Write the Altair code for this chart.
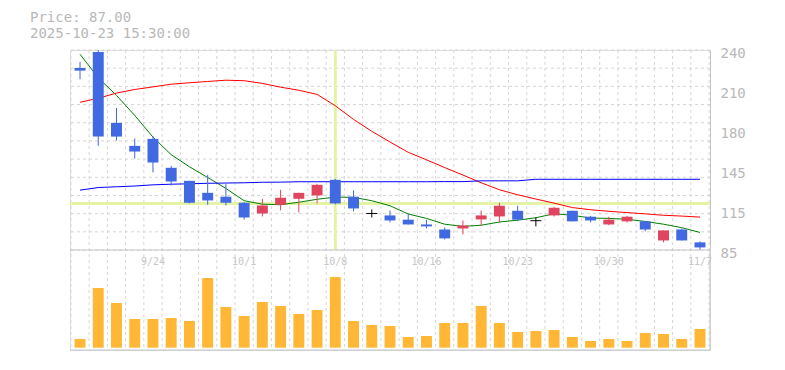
import altair as alt
import pandas as pd
import numpy as np

# ---------------- data ----------------
dates = ["9/17", "9/18", "9/19", "9/22", "9/24", "9/25", "9/26", "9/29", "9/30",
         "10/1", "10/2", "10/3", "10/6", "10/7", "10/8", "10/9", "10/10", "10/14",
         "10/15", "10/16", "10/17", "10/20", "10/21", "10/22", "10/23", "10/24",
         "10/27", "10/28", "10/29", "10/30", "10/31", "11/4", "11/5", "11/6", "11/7"]
open_p = [226.1, 238.5, 183.5, 165.7, 171.1, 148.7, 138.6, 129.3, 126.3, 121.6,
          113.3, 120.1, 124.7, 127.3, 139.4, 126.3, 113.3, 111.8, 108.5, 104.8,
          100.9, 101.7, 108.7, 111.0, 115.4, 107.7, 111.8, 115.4, 110.8, 104.8,
          107.2, 107.2, 92.4, 100.9, 90.9]
high_p = [230.7, 240.0, 195.1, 171.4, 173.2, 150.2, 138.6, 143.3, 136.3, 122.1,
          124.7, 131.7, 129.3, 136.3, 140.2, 131.3, 116.4, 115.6, 113.1, 108.5,
          102.5, 107.9, 115.6, 121.6, 119.3, 110.2, 118.5, 115.4, 111.5, 110.8,
          111.5, 107.2, 100.2, 101.7, 91.7]
low_p = [217.3, 165.7, 169.8, 155.9, 145.1, 135.0, 121.1, 120.1, 119.5, 108.5,
         111.0, 115.7, 114.1, 121.1, 120.3, 114.9, 110.2, 106.4, 104.8, 101.7,
         93.2, 97.1, 104.0, 106.6, 107.2, 103.3, 111.0, 107.2, 106.4, 104.3,
         106.4, 99.4, 90.9, 92.4, 85.0]
close_p = [224.0, 172.9, 172.9, 161.3, 152.8, 138.1, 121.6, 123.4, 121.6, 110.2,
           119.5, 125.5, 129.3, 135.5, 121.1, 117.2, 113.3, 107.9, 104.8, 103.3,
           94.0, 104.0, 111.8, 119.3, 108.5, 107.7, 117.7, 107.2, 107.9, 108.5,
           110.8, 100.9, 100.2, 92.4, 87.0]
ma5 = [236.7, 218.5, 204.8, 189.3, 172.5, 158.9, 149.5, 141.2, 132.7, 123.2,
       120.5, 120.1, 122.0, 124.3, 126.0, 125.8, 123.2, 119.3, 112.9, 109.5,
       105.0, 103.3, 104.2, 106.7, 108.1, 110.0, 113.1, 111.9, 109.8, 109.5,
       108.8, 107.1, 105.0, 102.3, 98.6]
ma25 = [199.5, 202.6, 206.6, 209.4, 211.4, 213.5, 214.6, 215.6, 216.6, 216.2,
        214.1, 211.2, 208.8, 205.6, 196.8, 186.2, 177.0, 168.7, 160.7, 154.9,
        148.9, 143.1, 137.1, 131.7, 127.8, 124.5, 121.3, 117.9, 116.2, 115.0,
        114.0, 113.0, 111.9, 111.3, 110.5]
ma75 = [131.4, 133.4, 134.0, 134.6, 135.5, 136.0, 136.3, 136.7, 136.9, 137.1,
        137.5, 137.6, 137.9, 137.9, 137.9, 137.9, 137.9, 137.9, 137.9, 137.9,
        138.0, 138.0, 138.6, 138.6, 138.6, 139.8, 139.8, 139.8, 139.8, 139.8,
        139.8, 139.8, 139.8, 139.8, 139.8]
volume = [87, 597, 447, 287, 287, 297, 267, 697, 407, 317, 457, 417, 337, 377,
          707, 267, 227, 217, 107, 117, 247, 247, 417, 247, 157, 167, 177, 107,
          67, 87, 67, 147, 137, 87, 187]
label_dates = ["9/24", "10/1", "10/8", "10/16", "10/23", "10/30", "11/7"]
price_ticks = [85, 116, 147, 178, 209, 240]
header_price = "Price: 87.00"
header_time = "2025-10-23 15:30:00"
cross_date = "10/8"

# ---------------- styling ----------------
MONO = "DejaVu Sans Mono"
UP, DOWN, FLAT = "#e0455f", "#4169e1", "#000000"
VOL_C = "#ffb735"
GRID_C = "#d6d6d6"
FRAME_C = "#c4c4c4"
CROSS_C = "#e4f4a4"
TEXT_C = "#b8b8b8"

P_MIN, P_MAX = 85, 240
V_MIN, V_MAX = -23, 977
W, H_PRICE, H_TOTAL = 640, 200, 300

n = len(dates)
df = pd.DataFrame({
    "idx": list(range(n)), "date": dates, "open": open_p, "high": high_p,
    "low": low_p, "close": close_p, "ma5": ma5, "ma25": ma25, "ma75": ma75,
    "vol": volume,
})
df["dir"] = np.where(df["close"] > df["open"], "up",
                     np.where(df["close"] < df["open"], "down", "flat"))

xscale = alt.Scale(domain=[-0.55, n - 1 + 0.55], nice=False, zero=False)
pscale = alt.Scale(domain=[P_MIN, P_MAX], range=[H_PRICE, 0], nice=False, zero=False)
vscale = alt.Scale(domain=[V_MIN, V_MAX], range=[H_TOTAL, H_PRICE], nice=False, zero=False)
color_scale = alt.Scale(domain=["up", "down", "flat"], range=[UP, DOWN, FLAT])

PAXIS = alt.Axis(orient="right", values=price_ticks, labelExpr="round(datum.value/5)*5",
                 ticks=False, grid=False, domain=True, domainColor=FRAME_C, domainWidth=1,
                 labelPadding=10, labelFont=MONO, labelFontSize=14, labelColor=TEXT_C,
                 labelOffset=3, labelFlush=False, labelOverlap=False, title=None)


def X(field):
    return alt.X(field, type="quantitative", scale=xscale, axis=None)


def PY(field):
    return alt.Y(field, type="quantitative", scale=pscale, axis=PAXIS)


base = alt.Chart(df).transform_calculate(xl="datum.idx - 0.3", xr="datum.idx + 0.3")

# grids
vgrid = alt.Chart(pd.DataFrame({"g": np.arange(n + 1) - 0.5})).mark_rule(
    color=GRID_C, strokeDash=[3, 3], strokeWidth=1).encode(x=X("g"))
hgrid = alt.Chart(pd.DataFrame({"p": np.linspace(P_MIN, P_MAX, 12)})).mark_rule(
    color=GRID_C, strokeDash=[3, 3], strokeWidth=1).encode(y=PY("p"))

# crosshair
cross = base.transform_filter(alt.datum.date == cross_date)
cross_h = cross.mark_rule(color=CROSS_C, strokeWidth=3).encode(y=PY("close"))
cross_v = cross.mark_rule(color=CROSS_C, strokeWidth=3).encode(
    x=X("idx"), y=alt.value(0), y2=alt.value(H_PRICE))

# moving averages
line5 = base.mark_line(color="#008000", strokeWidth=1).encode(x=X("idx"), y=PY("ma5"))
line25 = base.mark_line(color="#ff0000", strokeWidth=1).encode(x=X("idx"), y=PY("ma25"))
line75 = base.mark_line(color="#0000ff", strokeWidth=1).encode(x=X("idx"), y=PY("ma75"))

# candles
wicks = base.mark_rule(strokeWidth=1).encode(
    x=X("idx"), y=PY("low"), y2="high:Q",
    color=alt.Color("dir:N", scale=color_scale, legend=None))
bodies = base.mark_rect().encode(
    x=X("xl"), x2="xr:Q", y=PY("open"), y2="close:Q",
    color=alt.Color("dir:N", scale=color_scale, legend=None))
doji = base.transform_filter(alt.datum.dir == "flat").mark_rule(
    color=FLAT, strokeWidth=1).encode(x=X("xl"), x2="xr:Q", y=PY("open"))

price = alt.layer(hgrid, cross_h, cross_v, line5, line25, line75, wicks, bodies, doji)

# volume
vol_bars = base.mark_rect(color=VOL_C).encode(
    x=X("xl"), x2="xr:Q",
    y=alt.Y("vol:Q", scale=vscale, axis=None), y2=alt.datum(0))
vol = alt.layer(vol_bars)

# frame lines
one = pd.DataFrame({"a": [0]})
frame_mid = alt.Chart(one).mark_rule(color=FRAME_C, strokeWidth=1).encode(y=alt.value(H_PRICE))
frame_bot = alt.Chart(one).mark_rule(color=FRAME_C, strokeWidth=1).encode(y=alt.value(H_TOTAL))
frame_right = alt.Chart(one).mark_rule(color=FRAME_C, strokeWidth=1).encode(
    x=alt.value(W), y=alt.value(H_PRICE), y2=alt.value(H_TOTAL))

# date labels
date_text = base.transform_filter(
    alt.FieldOneOfPredicate(field="date", oneOf=label_dates)).mark_text(
    font=MONO, fontSize=10, color="#c6c6c6", baseline="middle", align="center").encode(
    x=X("idx"), y=alt.value(H_PRICE + 12), text="date:N")

# header
head1 = alt.Chart(pd.DataFrame({"t": [header_price]})).mark_text(
    font=MONO, fontSize=14, color=TEXT_C, align="left", baseline="middle").encode(
    x=alt.value(-40), y=alt.value(-32), text="t:N")
head2 = alt.Chart(pd.DataFrame({"t": [header_time]})).mark_text(
    font=MONO, fontSize=14, color=TEXT_C, align="left", baseline="middle").encode(
    x=alt.value(-40), y=alt.value(-16), text="t:N")

chart = alt.layer(vgrid, price, vol, frame_mid, frame_bot, frame_right,
                  date_text, head1, head2).resolve_scale(y="independent").properties(
    width=W, height=H_TOTAL,
    autosize=alt.AutoSizeParams(type="none"),
    padding={"left": 70, "top": 50, "right": 75, "bottom": 20},
).configure_view(strokeWidth=0).configure(background="white")

chart.save("out.html", embed_options={"renderer": "svg", "actions": False})
